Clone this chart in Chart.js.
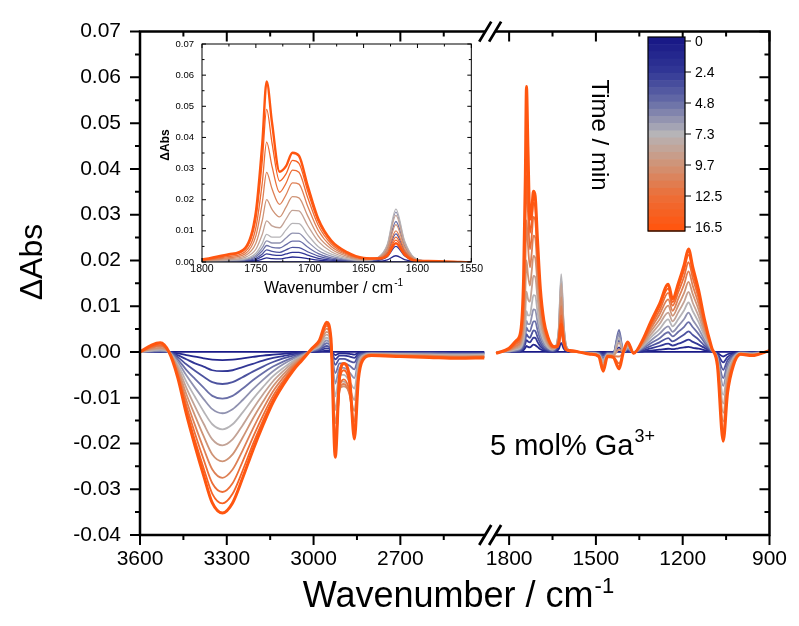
<!DOCTYPE html>
<html>
<head>
<meta charset="utf-8">
<script src="https://cdn.jsdelivr.net/npm/chart.js@4.4.0/dist/chart.umd.min.js"></script>
<style>
  html, body { margin: 0; padding: 0; background: #fff; }
  #wrap { position: relative; width: 799px; height: 626px; }
  #main { position: absolute; left: 0; top: 0; }
  #inset { position: absolute; left: 150px; top: 30px; }
</style>
</head>
<body>
<div id="wrap">
  <canvas id="main" width="799" height="626"></canvas>
  <canvas id="inset" width="334" height="275"></canvas>
</div>
<script>
// tiempos de cada espectro (min) y etiquetas de la barra de color
const times = [0, 1.3, 2.6, 3.9, 5.2, 6.5, 7.8, 9.1, 10.4, 11.7, 13.3, 14.9, 16.5];
const timeLabels = ['0', '2.4', '4.8', '7.3', '9.7', '12.5', '16.5'];

// ticks de los ejes
const yTicks = [-0.04, -0.03, -0.02, -0.01, 0, 0.01, 0.02, 0.03, 0.04, 0.05, 0.06, 0.07];
const yMinor = [-0.035, -0.025, -0.015, -0.005, 0.005, 0.015, 0.025, 0.035, 0.045, 0.055, 0.065];
const xTicksLeft = [3600, 3300, 3000, 2700];
const xTicksRight = [1800, 1500, 1200, 900];
const xMinorLeft = [3450, 3150, 2850, 2550];
const xMinorRight = [1650, 1350, 1050];
const insetXTicks = [1800, 1750, 1700, 1650, 1600, 1550];
const insetXMinor = [1775, 1725, 1675, 1625, 1575];
const insetYTicks = [0, 0.01, 0.02, 0.03, 0.04, 0.05, 0.06, 0.07];
const insetYMinor = [0.005, 0.015, 0.025, 0.035, 0.045, 0.055, 0.065];

// número de onda (cm-1) de cada punto
const leftWn = [3600, 3560, 3530, 3500, 3470, 3440, 3410, 3380, 3350, 3315, 3280, 3245, 3210, 3175, 3140, 3105, 3070, 3040, 3005, 2980,
    2955, 2940, 2925, 2910, 2895, 2875, 2859, 2845, 2830, 2800, 2700, 2600, 2500, 2410];
const rightWn = [1845, 1800, 1775, 1760, 1750, 1744, 1740, 1735, 1728, 1722, 1716, 1710, 1702, 1692, 1680, 1665, 1650,
    1636, 1628, 1620, 1612, 1603, 1590,
    1560, 1520, 1490, 1475, 1460, 1440, 1420, 1405, 1390, 1370, 1340, 1310, 1280, 1250, 1235, 1215, 1195, 1180, 1165, 1145, 1125,
    1100, 1080, 1060, 1045, 1025, 1000, 960, 900];

// ΔAbs x 1000 (tramo 3600-2410)
const L00 = [0, 0, 0, 0, 0, 0, 0, 0, 0, 0, 0, 0, 0, 0, 0, 0, 0, 0, 0, 0, 0, 0, 0, 0, 0, 0, 0, 0, 0, 0, 0, 0, 0, 0];
const L01 = [0, 0, 0, 0, -.3, -.7, -1, -1.4, -1.7, -1.8, -1.7, -1.4, -1.1, -.8, -.6, -.4, -.2, -.1, 0, .1, .3, .2, -.7, -.3, -.3, -.4, -.6, -.2, -.1, 0, -.1, -.1, -.1, -.1];
const L02 = [0, 0, 0, 0, -.7, -1.6, -2.5, -3.2, -4, -4.2, -4, -3.3, -2.6, -1.9, -1.3, -.9, -.5, -.2, .1, .3, .8, .4, -1.6, -.8, -.8, -1, -1.3, -.4, -.2, -.1, -.1, -.1, -.2, -.2];
const L03 = [0, .1, .1, 0, -1.1, -2.7, -4.1, -5.4, -6.6, -7, -6.6, -5.5, -4.3, -3.2, -2.2, -1.4, -.8, -.4, .2, .5, 1.3, .6, -2.8, -1.5, -1.5, -2, -2.3, -.7, -.4, -.2, -.2, -.2, -.3, -.3];
const L04 = [0, .1, .2, 0, -1.6, -3.9, -5.9, -7.8, -9.6, -10.2, -9.6, -8, -6.2, -4.6, -3.2, -2.1, -1.2, -.5, .2, .7, 1.9, .9, -4.6, -2.5, -2.5, -3, -3.8, -1.2, -.5, -.2, -.3, -.3, -.4, -.4];
const L05 = [0, .2, .3, 0, -2.1, -5.1, -7.8, -10.3, -12.5, -13.4, -12.5, -10.5, -8.2, -6.1, -4.2, -2.7, -1.5, -.7, .3, 1, 2.5, 1.1, -6.9, -3.5, -3.5, -4.5, -5.7, -1.8, -.7, -.3, -.4, -.5, -.5, -.5];
const L06 = [0, .3, .5, 0, -2.6, -6.5, -9.8, -13, -15.8, -16.9, -15.8, -13.2, -10.3, -7.7, -5.3, -3.5, -1.9, -.9, .4, 1.2, 3.1, 1.4, -9.7, -5, -5, -6.5, -8, -2.5, -.9, -.4, -.5, -.6, -.7, -.6];
const L07 = [0, .5, .7, 0, -3.2, -7.8, -11.9, -15.7, -19.1, -20.4, -19.1, -16, -12.5, -9.3, -6.4, -4.2, -2.3, -1, .5, 1.5, 3.8, 1.7, -12.7, -6.5, -6.5, -8, -10.5, -3.3, -1, -.5, -.6, -.7, -.8, -.8];
const L08 = [0, .7, .9, 0, -3.7, -9.2, -13.9, -18.4, -22.4, -23.9, -22.4, -18.7, -14.6, -10.9, -7.5, -4.9, -2.7, -1.2, .5, 1.7, 4.4, 2, -15.6, -8, -7.5, -9, -12.9, -4.1, -1.2, -.5, -.7, -.8, -1, -.9];
const L09 = [0, .9, 1.2, 0, -4.3, -10.5, -16, -21.1, -25.7, -27.5, -25.7, -21.5, -16.8, -12.5, -8.6, -5.6, -3.1, -1.4, .6, 2, 5.1, 2.3, -18.4, -8.5, -7, -9.5, -15.2, -4.8, -1.4, -.6, -.8, -.9, -1.1, -1];
const L10 = [0, 1.1, 1.5, 0, -4.8, -11.7, -17.8, -23.5, -28.7, -30.6, -28.7, -23.9, -18.7, -13.9, -9.6, -6.3, -3.5, -1.6, .7, 2.2, 5.7, 2.6, -20.7, -8, -6, -9, -17.1, -5.4, -1.6, -.7, -.9, -1, -1.2, -1.1];
const L11 = [0, 1.3, 1.8, 0, -5.2, -12.7, -19.3, -25.4, -31, -33.1, -31, -25.9, -20.2, -15, -10.3, -6.8, -3.8, -1.7, .8, 2.4, 6.1, 2.8, -22.1, -6.5, -4, -7.5, -18.2, -5.8, -1.7, -.8, -.9, -1.1, -1.3, -1.2];
const L12 = [0, 1.5, 2, 0, -5.5, -13.5, -20.5, -27, -33, -35.2, -33, -27.5, -21.5, -16, -11, -7.2, -4, -1.8, .8, 2.5, 6.5, 3, -23, -5, -2.5, -6, -19, -6, -1.8, -.8, -1, -1.2, -1.4, -1.3];

// ΔAbs x 1000 (tramo 1845-900)
const R00 = [0, 0, 0, 0, 0, 0, 0, 0, 0, 0, 0, 0, 0, 0, 0, 0, 0, 0, 0, 0, 0, 0, 0, 0, 0, 0, 0, 0, 0, 0, 0, 0, 0, 0, 0, 0, 0, 0, 0, 0, 0, 0, 0, 0, 0, 0, 0, 0, 0, 0, 0, 0];
const R01 = [0, 0, .1, .1, .4, .9, 1.3, 1.1, 1, 1.3, 1.6, 1.5, 1.1, .6, .3, .1, .1, .2, .7, 2, .8, .2, 0,
    0, 0, -.1, -.2, -.1, -.1, 1, 0, .1, 0, .1, .3, .5, .7, .6, .8, 1, 1.1, .9, .7, .4, .1, -.2, -1, -.5, -.2, 0, 0, 0];
const R02 = [0, .1, .2, .3, .8, 1.8, 2.6, 2.3, 2.1, 2.6, 3.1, 3.1, 2.2, 1.2, .6, .3, .1, .5, 1.7, 5, 2, .4, .1,
    0, -.1, -.1, -.5, -.1, -.1, 2.5, 0, .3, 0, .3, .8, 1.3, 1.8, 1.4, 1.8, 2.3, 2.7, 2.2, 1.6, .9, .1, -.4, -2.3, -1.1, -.4, -.1, -.1, 0];
const R03 = [0, .1, .2, .4, 1.2, 2.6, 3.9, 3.4, 3.1, 3.9, 4.7, 4.6, 3.3, 1.9, .9, .4, .2, .8, 3, 9, 3.6, .7, .2,
    0, -.1, -.2, -.8, -.2, -.2, 4, 0, .4, -.1, .5, 1.3, 2.1, 3, 2.3, 3, 3.8, 4.5, 3.7, 2.7, 1.4, .2, -.6, -3.9, -1.8, -.6, -.1, -.2, .1];
const R04 = [0, .1, .3, .6, 1.7, 3.6, 5.3, 4.7, 4.5, 5.6, 6.7, 6.7, 4.8, 2.7, 1.3, .6, .3, 1.1, 4.3, 13, 5.2, 1, .3,
    0, -.1, -.3, -1.2, -.3, -.3, 4.8, 0, .6, -.1, .7, 1.9, 3, 4.3, 3.4, 4.4, 5.5, 6.5, 5.4, 3.9, 2.1, .3, -.9, -5.7, -2.6, -.9, -.1, -.2, .1];
const R05 = [0, .1, .4, .8, 2.2, 4.6, 6.8, 6.1, 6.1, 7.7, 9.3, 9.2, 6.6, 3.7, 1.9, .8, .4, 1.5, 5.3, 16, 6.4, 1.3, .3,
    0, -.2, -.4, -1.6, -.4, -.5, 4, 0, .8, -.1, .9, 2.5, 4, 5.6, 4.4, 5.7, 7.2, 8.6, 7, 5.1, 2.7, .4, -1.1, -7.4, -3.4, -1.1, -.2, -.3, .1];
const R06 = [0, .2, .6, 1, 2.8, 6, 8.9, 8, 8, 10.3, 12.4, 12.3, 8.8, 4.9, 2.5, 1, .5, 1.6, 5.6, 17, 6.8, 1.4, .3,
    0, -.2, -.5, -2, -.5, -.6, 3, 0, 1.1, -.1, 1.2, 3.2, 5, 7.1, 5.6, 7.2, 9.1, 10.8, 8.9, 6.5, 3.5, .5, -1.4, -9.4, -4.3, -1.4, -.2, -.4, .1];
const R07 = [0, .3, .8, 1.5, 4.1, 8.9, 13.2, 11.6, 11, 13.8, 16.6, 16.4, 11.8, 6.6, 3.3, 1.4, .6, 1.5, 5, 15, 6, 1.2, .3,
    0, -.3, -.6, -2.4, -.6, -.7, 2, 0, 1.3, -.2, 1.4, 3.8, 6.1, 8.6, 6.7, 8.7, 11, 13.1, 10.7, 7.8, 4.2, .6, -1.7, -11.3, -5.2, -1.7, -.3, -.5, .2];
const R08 = [-.2, .4, 1.1, 2, 6, 13.4, 20, 16.9, 14.5, 17.6, 21, 20.6, 14.9, 8.3, 4.2, 1.8, .8, 1.4, 4, 12, 4.8, 1, .2,
    0, -.3, -.7, -2.9, -.7, -.8, .5, 0, 1.5, -.2, 1.6, 4.5, 7.1, 10.1, 7.9, 10.2, 12.9, 15.3, 12.6, 9.2, 4.9, .7, -2, -13.3, -6.1, -2, -.3, -.5, .2];
const R09 = [-.2, .5, 1.4, 2.6, 8.4, 19.2, 28.8, 23.5, 18.5, 21.6, 25.4, 25, 18, 10.1, 5, 2.2, 1, 1.3, 3.3, 10, 4, .8, .2,
    0, -.4, -.8, -3.3, -.8, -.9, -1, 0, 1.7, -.2, 1.9, 5.1, 8.2, 11.5, 9, 11.7, 14.8, 17.6, 14.4, 10.5, 5.6, .8, -2.3, -15.2, -7, -2.3, -.4, -.6, .2];
const R10 = [-.2, .6, 1.8, 3.3, 11, 25.6, 38.5, 30.7, 22.4, 25.3, 29.5, 28.8, 20.8, 11.7, 5.8, 2.5, 1.1, 1.2, 2.6, 8, 3.2, .6, .2,
    0, -.4, -.9, -3.7, -.9, -1, -2.5, 0, 1.9, -.3, 2.1, 5.7, 9.1, 12.9, 10.1, 13.1, 16.5, 19.6, 16.1, 11.7, 6.3, .9, -2.6, -17, -7.8, -2.6, -.4, -.7, .3];
const R11 = [-.3, .7, 2.2, 4, 13.8, 32.5, 49, 38.2, 26, 28.3, 32.6, 31.7, 22.9, 12.9, 6.4, 2.8, 1.2, 1.2, 2.3, 7, 2.8, .6, .1,
    0, -.5, -.9, -3.9, -.9, -1.1, -3.2, 0, 2.1, -.3, 2.3, 6.2, 9.9, 13.9, 10.9, 14.1, 17.9, 21.2, 17.4, 12.7, 6.8, .9, -2.8, -18.3, -8.5, -2.8, -.5, -.8, .3];
const R12 = [-.3, .8, 2.5, 4.5, 16.1, 38.3, 58, 44.7, 29, 30.8, 35.1, 34.1, 24.6, 13.8, 6.9, 3.1, 1.3, 1.1, 2, 6, 2.4, .5, .3,
    0, -.5, -1, -4.2, -1, -1.2, -3.7, 0, 2.2, -.3, 2.4, 6.6, 10.5, 14.8, 11.6, 15, 19, 22.5, 18.5, 13.5, 7.2, 1, -3, -19.5, -9, -3, -.5, -.8, .3];

const leftSeries = [L00, L01, L02, L03, L04, L05, L06, L07, L08, L09, L10, L11, L12];
const rightSeries = [R00, R01, R02, R03, R04, R05, R06, R07, R08, R09, R10, R11, R12];

// eje x cortado: coordenada continua u
const L_MAX = 3600, L_MIN = 2410, R_MAX = 1845, R_MIN = 900, GAP = 41;
function toU(wn) {
    return wn > 2000 ? L_MAX - wn : (L_MAX - L_MIN) + GAP + (R_MAX - wn);
}
function fromU(u) {
    return u <= L_MAX - L_MIN ? L_MAX - u : R_MAX - (u - (L_MAX - L_MIN) - GAP);
}

const FONT = '"Liberation Sans", Arial, sans-serif';
Chart.defaults.font.family = FONT;
Chart.defaults.color = '#000';

// colores azul -> gris -> naranja
const colorStops = [
    [0, [25, 25, 135]], [0.17, [50, 56, 150]], [0.33, [104, 110, 168]], [0.5, [182, 180, 183]],
    [0.67, [208, 146, 116]], [0.83, [236, 110, 56]], [1, [255, 86, 16]]
];
function colorAt(f) {
    for (let k = 1; k < colorStops.length; k++) {
        if (f <= colorStops[k][0]) {
            const [f0, c0] = colorStops[k - 1], [f1, c1] = colorStops[k];
            const t = (f - f0) / (f1 - f0);
            const c = c0.map((v, j) => Math.round(v + (c1[j] - v) * t));
            return `rgb(${c[0]},${c[1]},${c[2]})`;
        }
    }
    return 'rgb(255,86,16)';
}

// texto con superíndice
function textSup(ctx, base, sup, x, y, size, supSize, rise, center) {
    ctx.font = `${size}px ${FONT}`;
    const w1 = ctx.measureText(base).width;
    ctx.font = `${supSize}px ${FONT}`;
    const w2 = ctx.measureText(sup).width;
    const x0 = center ? x - (w1 + w2) / 2 : x;
    ctx.textAlign = 'left';
    ctx.textBaseline = 'alphabetic';
    ctx.font = `${size}px ${FONT}`;
    ctx.fillText(base, x0, y);
    ctx.font = `${supSize}px ${FONT}`;
    ctx.fillText(sup, x0 + w1 + 1, y - rise);
}

// marco, ticks, corte y textos del gráfico principal
const marcoPrincipal = {
    id: 'marcoPrincipal',
    afterDraw(chart) {
        const { ctx, chartArea: a } = chart;
        const xs = chart.scales.x, ys = chart.scales.y;
        const px = wn => xs.getPixelForValue(toU(wn));
        const py = v => ys.getPixelForValue(v);
        ctx.save();
        ctx.strokeStyle = '#000';
        ctx.fillStyle = '#000';
        ctx.lineWidth = 2.5;
        const b1 = px(L_MIN) + 1, b2 = px(R_MAX) - 1;
        ctx.beginPath();
        [a.top, a.bottom].forEach(yy => {
            ctx.moveTo(a.left - 1.2, yy); ctx.lineTo(b1, yy);
            ctx.moveTo(b2, yy); ctx.lineTo(a.right + 1.2, yy);
        });
        ctx.moveTo(a.left, a.top); ctx.lineTo(a.left, a.bottom);
        ctx.moveTo(a.right, a.top); ctx.lineTo(a.right, a.bottom);
        ctx.stroke();
        // marcas de corte //
        ctx.lineWidth = 2.8;
        ctx.beginPath();
        [a.top, a.bottom].forEach(yy => {
            [b1, b2].forEach(xx => { ctx.moveTo(xx - 6, yy + 10); ctx.lineTo(xx + 6, yy - 10); });
        });
        ctx.stroke();
        // ticks
        ctx.lineWidth = 2;
        ctx.beginPath();
        [...xTicksLeft, ...xTicksRight].forEach(wn => {
            const x = px(wn);
            ctx.moveTo(x, a.bottom); ctx.lineTo(x, a.bottom + 10);
            ctx.moveTo(x, a.top); ctx.lineTo(x, a.top + 10);
        });
        [...xMinorLeft, ...xMinorRight].forEach(wn => {
            const x = px(wn);
            ctx.moveTo(x, a.bottom); ctx.lineTo(x, a.bottom + 5);
            ctx.moveTo(x, a.top); ctx.lineTo(x, a.top + 5);
        });
        yTicks.forEach(v => {
            const y = py(v);
            ctx.moveTo(a.left - 10, y); ctx.lineTo(a.left, y);
            ctx.moveTo(a.right - 10, y); ctx.lineTo(a.right, y);
        });
        yMinor.forEach(v => {
            const y = py(v);
            ctx.moveTo(a.left - 5, y); ctx.lineTo(a.left, y);
            ctx.moveTo(a.right - 5, y); ctx.lineTo(a.right, y);
        });
        ctx.stroke();

        // títulos de ejes
        ctx.save();
        ctx.translate(42, 262);
        ctx.rotate(-Math.PI / 2);
        ctx.font = `32px ${FONT}`;
        ctx.textAlign = 'center';
        ctx.textBaseline = 'alphabetic';
        ctx.fillText('ΔAbs', 0, 0);
        ctx.restore();
        textSup(ctx, 'Wavenumber / cm', '-1', 458, 607, 36, 22, 14, true);

        // etiqueta de la muestra
        textSup(ctx, '5 mol% Ga', '3+', 490, 455, 29, 18, 13, false);

        // barra de color
        const cb = { x: 648, y: 37, w: 37, h: 194 };
        const nb = 27;
        for (let k = 0; k < nb; k++) {
            ctx.fillStyle = colorAt(k / (nb - 1));
            ctx.fillRect(cb.x, cb.y + k * cb.h / nb, cb.w, cb.h / nb + 0.6);
        }
        ctx.lineWidth = 1.2;
        ctx.strokeRect(cb.x, cb.y, cb.w, cb.h);
        ctx.fillStyle = '#000';
        ctx.font = `14px ${FONT}`;
        ctx.textAlign = 'left';
        ctx.textBaseline = 'middle';
        ctx.beginPath();
        timeLabels.forEach((t, k) => {
            const y = cb.y + 4 + k * (cb.h - 8) / (timeLabels.length - 1);
            ctx.moveTo(cb.x + cb.w, y); ctx.lineTo(cb.x + cb.w + 6, y);
            ctx.fillText(t, cb.x + cb.w + 10, y + 1);
        });
        ctx.stroke();
        ctx.save();
        ctx.translate(592, 135);
        ctx.rotate(Math.PI / 2);
        ctx.font = `24px ${FONT}`;
        ctx.textAlign = 'center';
        ctx.textBaseline = 'alphabetic';
        ctx.fillText('Time / min', 0, 0);
        ctx.restore();
        ctx.restore();
    }
};

// marco del inserto
const marcoInserto = {
    id: 'marcoInserto',
    afterDraw(chart) {
        const { ctx, chartArea: a } = chart;
        const xs = chart.scales.x, ys = chart.scales.y;
        ctx.save();
        ctx.strokeStyle = '#000';
        ctx.fillStyle = '#000';
        ctx.lineWidth = 1;
        ctx.strokeRect(a.left, a.top, a.right - a.left, a.bottom - a.top);
        ctx.beginPath();
        insetXTicks.forEach(wn => {
            const x = xs.getPixelForValue(wn);
            ctx.moveTo(x, a.bottom); ctx.lineTo(x, a.bottom - 4);
            ctx.moveTo(x, a.top); ctx.lineTo(x, a.top + 4);
        });
        insetXMinor.forEach(wn => {
            const x = xs.getPixelForValue(wn);
            ctx.moveTo(x, a.bottom); ctx.lineTo(x, a.bottom - 2.5);
            ctx.moveTo(x, a.top); ctx.lineTo(x, a.top + 2.5);
        });
        insetYTicks.forEach(v => {
            const y = ys.getPixelForValue(v);
            ctx.moveTo(a.left, y); ctx.lineTo(a.left + 4, y);
            ctx.moveTo(a.right, y); ctx.lineTo(a.right - 4, y);
        });
        insetYMinor.forEach(v => {
            const y = ys.getPixelForValue(v);
            ctx.moveTo(a.left, y); ctx.lineTo(a.left + 2.5, y);
            ctx.moveTo(a.right, y); ctx.lineTo(a.right - 2.5, y);
        });
        ctx.stroke();
        ctx.save();
        ctx.translate(19, 115);
        ctx.rotate(-Math.PI / 2);
        ctx.font = `bold 12px ${FONT}`;
        ctx.textAlign = 'center';
        ctx.fillText('ΔAbs', 0, 0);
        ctx.restore();
        textSup(ctx, 'Wavenumber / cm', '-1', 183, 263, 16, 10, 7, true);
        ctx.restore();
    }
};

class EspectrosCharts {
    constructor() {
        this.n = leftSeries.length;
        this.main = new Chart(document.getElementById('main'), this.getMainConfig());
        this.inset = new Chart(document.getElementById('inset'), this.getInsetConfig());
    }

    estilo(i) {
        const last = i === this.n - 1;
        return {
            borderColor: colorAt(i / (this.n - 1)),
            borderWidth: last ? 3 : 1.8,
            pointRadius: 0,
            cubicInterpolationMode: 'monotone',
            spanGaps: false,
            order: this.n - 1 - i
        };
    }

    getMainConfig() {
        const datasets = leftSeries.map((ls, i) => {
            const pts = leftWn.map((wn, k) => ({ x: toU(wn), y: ls[k] / 1000 }));
            // hueco del corte
            pts.push({ x: toU(L_MIN) + GAP / 2, y: null });
            rightWn.forEach((wn, k) => pts.push({ x: toU(wn), y: rightSeries[i][k] / 1000 }));
            return { label: times[i] + ' min', data: pts, ...this.estilo(i) };
        });
        return {
            type: 'line',
            data: { datasets },
            options: {
                responsive: false,
                animation: false,
                devicePixelRatio: 1,
                layout: { padding: { left: 0, top: 20, right: 23, bottom: 0 } },
                plugins: { legend: { display: false }, tooltip: { enabled: false } },
                scales: {
                    x: {
                        type: 'linear',
                        min: 0,
                        max: toU(R_MIN),
                        grid: { display: false, drawTicks: false },
                        border: { display: false },
                        afterBuildTicks: s => { s.ticks = [...xTicksLeft, ...xTicksRight].map(wn => ({ value: toU(wn) })); },
                        afterFit: s => { s.height = 91; },
                        ticks: {
                            autoSkip: false, maxRotation: 0, padding: 12,
                            font: { size: 21 },
                            callback: v => String(Math.round(fromU(v)))
                        }
                    },
                    y: {
                        type: 'linear',
                        min: -0.04,
                        max: 0.07,
                        grid: { display: false, drawTicks: false },
                        border: { display: false },
                        afterBuildTicks: s => { s.ticks = yTicks.map(v => ({ value: v })); },
                        afterFit: s => { s.width = 140; },
                        ticks: {
                            padding: 19,
                            font: { size: 21 },
                            callback: v => (Math.abs(v) < 1e-9 ? 0 : v).toFixed(2)
                        }
                    }
                }
            },
            plugins: [marcoPrincipal]
        };
    }

    getInsetConfig() {
        const datasets = rightSeries.map((rs, i) => {
            const st = this.estilo(i);
            st.borderWidth = i === this.n - 1 ? 2.4 : 1.3;
            return { label: times[i] + ' min', data: rightWn.map((wn, k) => ({ x: wn, y: rs[k] / 1000 })), ...st };
        });
        return {
            type: 'line',
            data: { datasets },
            options: {
                responsive: false,
                animation: false,
                devicePixelRatio: 1,
                layout: { padding: { left: 0, top: 14, right: 12, bottom: 0 } },
                plugins: { legend: { display: false }, tooltip: { enabled: false } },
                scales: {
                    x: {
                        type: 'linear',
                        reverse: true,
                        min: 1550,
                        max: 1800,
                        grid: { display: false, drawTicks: false },
                        border: { display: false },
                        afterBuildTicks: s => { s.ticks = insetXTicks.map(v => ({ value: v })); },
                        afterFit: s => { s.height = 43; },
                        ticks: { autoSkip: false, maxRotation: 0, padding: 1, font: { size: 10.5 }, callback: v => String(v) }
                    },
                    y: {
                        type: 'linear',
                        min: 0,
                        max: 0.07,
                        grid: { display: false, drawTicks: false },
                        border: { display: false },
                        afterBuildTicks: s => { s.ticks = insetYTicks.map(v => ({ value: v })); },
                        afterFit: s => { s.width = 52; },
                        ticks: { padding: 8, font: { size: 9.5 }, callback: v => v.toFixed(2) }
                    }
                }
            },
            plugins: [marcoInserto]
        };
    }
}

// iniciar cuando el DOM esté listo
document.addEventListener('DOMContentLoaded', () => {
    window.espectros = new EspectrosCharts();
});
</script>
</body>
</html>
